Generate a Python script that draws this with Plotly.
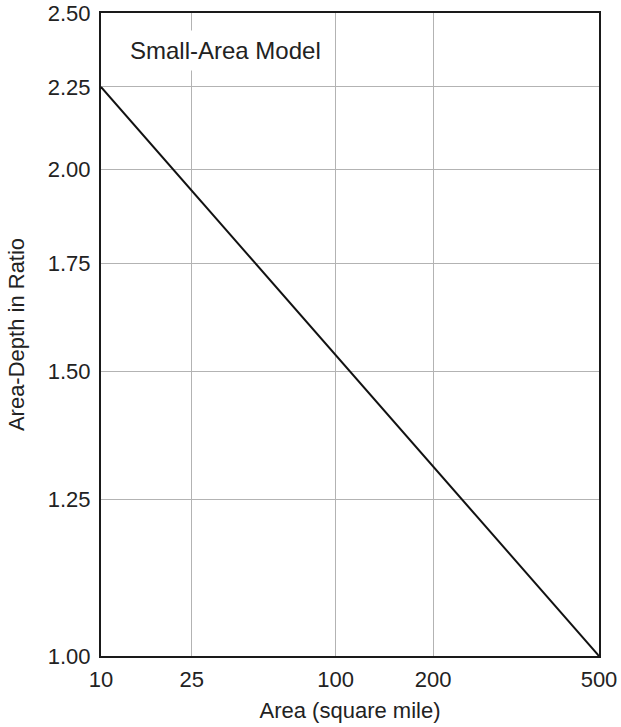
import numpy as np
import plotly.graph_objects as go

# Area-depth relation for the small-area model
area = [10, 500]          # square miles
ratio = [2.25, 1.00]      # area-depth ratio

# Horizontal scale of the nomograph: area tick values and their relative
# placement along the axis (nonuniform, between linear and logarithmic)
x_tick_values = [10, 25, 100, 200, 500]
x_tick_frac = [0.0, 0.182, 0.471, 0.667, 1.0]

y_tick_values = [1.00, 1.25, 1.50, 1.75, 2.00, 2.25, 2.50]


def area_to_axis(a):
    """Map an area value onto the nomograph's horizontal scale."""
    return np.interp(np.log10(a), np.log10(x_tick_values), x_tick_frac)


FONT = "Liberation Sans, Arial, Helvetica, sans-serif"

fig = go.Figure()
fig.add_trace(go.Scatter(
    x=area_to_axis(area),
    y=ratio,
    mode="lines",
    line=dict(color="#111111", width=2),
    showlegend=False,
    hoverinfo="skip",
))

fig.update_layout(
    width=621,
    height=727,
    margin=dict(l=101, r=22, t=13, b=71),
    paper_bgcolor="white",
    plot_bgcolor="white",
    font=dict(family=FONT, size=22, color="#222222"),
    xaxis=dict(
        range=[0, 1],
        automargin=False,
        tickmode="array",
        tickvals=area_to_axis(x_tick_values),
        ticktext=[str(v) for v in x_tick_values],
        showgrid=True,
        gridcolor="#b3b3b3",
        gridwidth=1,
        zeroline=False,
        showline=True,
        linecolor="#1a1a1a",
        linewidth=2,
        mirror=True,
        ticks="",
        ticklabelstandoff=3,
        title=dict(text="Area (square mile)", standoff=11,
                   font=dict(size=22)),
        tickfont=dict(size=22),
    ),
    yaxis=dict(
        type="log",
        range=[0, np.log10(2.5)],
        automargin=False,
        tickmode="array",
        tickvals=y_tick_values,
        ticktext=[f"{v:.2f}" for v in y_tick_values],
        showgrid=True,
        gridcolor="#b3b3b3",
        gridwidth=1,
        zeroline=False,
        showline=True,
        linecolor="#1a1a1a",
        linewidth=2,
        mirror=True,
        ticks="",
        ticklabelstandoff=4,
        title=dict(text="Area-Depth in Ratio", standoff=17,
                   font=dict(size=22)),
        tickfont=dict(size=22),
    ),
    annotations=[dict(
        text="Small-Area Model",
        xref="paper", yref="paper",
        x=0.045, y=0.942,
        xanchor="left", yanchor="middle",
        showarrow=False,
        font=dict(family=FONT, size=24, color="#222222"),
        bgcolor="white",
        borderpad=6,
    )],
)

fig.write_html("out.html")
